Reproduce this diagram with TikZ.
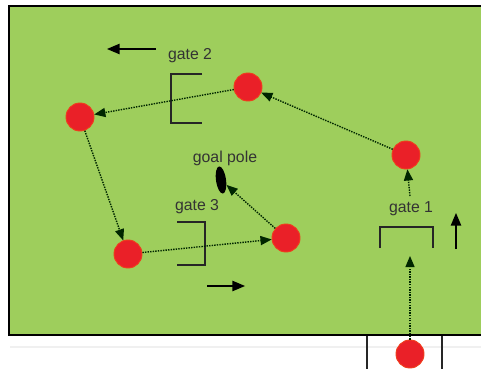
\documentclass[tikz,border=0pt]{standalone}
\usepackage{fontspec}
\setmainfont{Liberation Sans}
\usetikzlibrary{shapes.geometric,arrows,positioning}
\definecolor{fieldgreen}{RGB}{158,206,92}
\definecolor{conered}{RGB}{234,32,40}
\tikzset{
  cone/.style={circle,fill=conered,draw=conered!70!orange,line width=0.8pt,minimum size=0.84cm,inner sep=0pt},
  polemark/.style={ellipse,fill=black,minimum width=0.3cm,minimum height=0.82cm,inner sep=0pt},
  lbl/.style={font=\fontsize{13.5}{15}\selectfont,text=black!80,inner sep=1pt},
  gatebar/.style={line width=1.4pt,black!85},
  pass/.style={densely dotted,line width=1.2pt,black!85!green,-triangle 45},
  dirarrow/.style={line width=1.5pt,black,-triangle 45},
}
\begin{document}
\begin{tikzpicture}[x=0.03cm,y=-0.03cm]
\useasboundingbox (0,0) rectangle (481,369);
% the field
\fill[fieldgreen] (9,6) rectangle (481,335);
\draw[line width=1.6pt] (481,6) -- (9,6) -- (9,335) -- (481,335);
\draw[gray!12,line width=1pt] (10,347) -- (481,347);
\draw[gatebar] (367,336) -- (367,369);
\draw[gatebar] (442,336) -- (442,369);
% cones
\node[cone] (cA) at (410,354) {};
\node[cone] (cB) at (406,155) {};
\node[cone] (cC) at (248,87) {};
\node[cone] (cD) at (80,117) {};
\node[cone] (cE) at (128,254) {};
\node[cone] (cF) at (286,238) {};
% goal pole
\node[polemark,rotate=8] (pole) at (221,180) {};
\node[lbl] (polelbl) at (225,158) {goal pole};
% gates
\draw[gatebar] (380,248) -- (380,227) -- (433,227) -- (433,248);
\node[lbl] (g1) at (411,209) {gate 1};
\draw[gatebar] (202,74) -- (171,74) -- (171,123) -- (202,123);
\node[lbl] (g2) at (190,56) {gate 2};
\draw[gatebar] (177,222) -- (205,222) -- (205,265) -- (177,265);
\node[lbl] (g3) at (197,207) {gate 3};
% passes
\coordinate (g1in) at (410,256);
\coordinate (g1out) at (410,196);
\draw[pass] (cA) -- (g1in);
\draw[pass] (g1out) -- (cB);
\draw[pass] (cB) -- (cC);
\draw[pass] (cC) -- (cD);
\draw[pass] (cD) -- (cE);
\draw[pass] (cE) -- (cF);
\draw[pass] (cF) -- (pole);
% running direction
\coordinate (d1s) at (156,49);
\coordinate (d1e) at (107,49);
\coordinate (d2s) at (207,286);
\coordinate (d2e) at (245,286);
\coordinate (d3s) at (456,249);
\coordinate (d3e) at (456,213);
\draw[dirarrow] (d1s) -- (d1e);
\draw[dirarrow] (d2s) -- (d2e);
\draw[dirarrow] (d3s) -- (d3e);
\end{tikzpicture}
\end{document}
